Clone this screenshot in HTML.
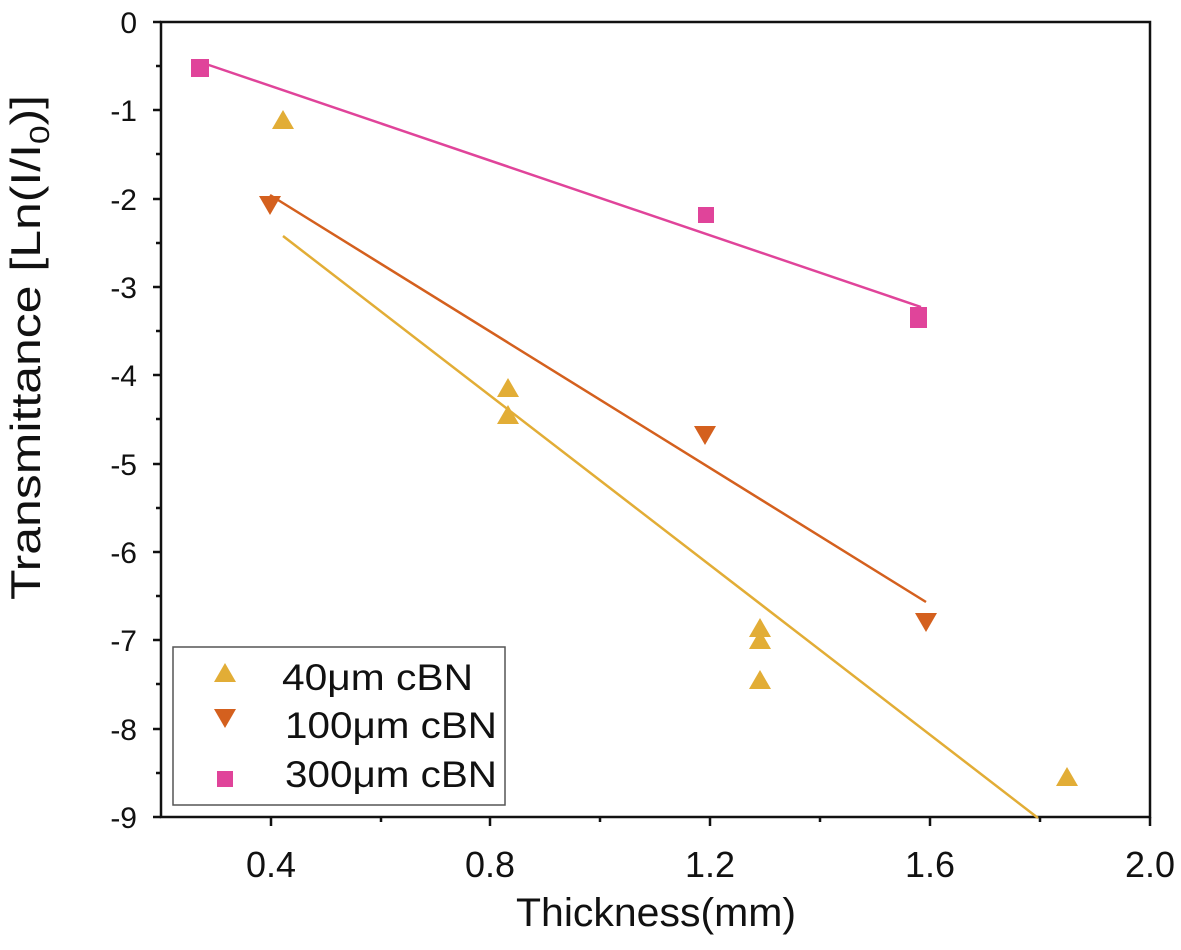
<!DOCTYPE html><html><head><style>body{margin:0;background:#fff}</style></head><body>
<svg width="1181" height="945" xmlns="http://www.w3.org/2000/svg" font-family="Liberation Sans, sans-serif">
<rect width="1181" height="945" fill="#fff"/>
<g stroke="#111" stroke-width="2.5" fill="none">
<rect x="161" y="22" width="989" height="795"/>
<path d="M153 22H161M153 110H161M153 199H161M153 287H161M153 375H161M153 464H161M153 552H161M153 640H161M153 729H161M153 817H161"/>
<path d="M156 66H161M156 154H161M156 243H161M156 331H161M156 419H161M156 508H161M156 596H161M156 684H161M156 773H161"/>
<path d="M271 817V826M490 817V826M710 817V826M930 817V826M1150 817V826M381 817V822M600 817V822M820 817V822M1040 817V822"/>
</g>
<g font-size="30" fill="#111" text-anchor="end">
<text x="137" y="33">0</text><text x="137" y="121">-1</text><text x="137" y="210">-2</text><text x="137" y="298">-3</text><text x="137" y="386">-4</text><text x="137" y="475">-5</text><text x="137" y="563">-6</text><text x="137" y="651">-7</text><text x="137" y="740">-8</text><text x="137" y="828">-9</text>
</g>
<g font-size="36" fill="#111">
<text x="246" y="877" textLength="50" lengthAdjust="spacingAndGlyphs">0.4</text>
<text x="465" y="877" textLength="50" lengthAdjust="spacingAndGlyphs">0.8</text>
<text x="685" y="877" textLength="50" lengthAdjust="spacingAndGlyphs">1.2</text>
<text x="905" y="877" textLength="50" lengthAdjust="spacingAndGlyphs">1.6</text>
<text x="1125" y="877" textLength="50" lengthAdjust="spacingAndGlyphs">2.0</text>
<text x="516" y="926" font-size="40" textLength="280" lengthAdjust="spacingAndGlyphs">Thickness(mm)</text>
<text transform="translate(40,600) rotate(-90)" font-size="42" textLength="505" lengthAdjust="spacingAndGlyphs">Transmittance [Ln(I/I<tspan font-size="28" dy="9">0</tspan><tspan dy="-9">)]</tspan></text>
</g>
<g stroke-width="2.5">
<line x1="200" y1="62" x2="921" y2="307" stroke="#e0449a"/>
<line x1="270" y1="195" x2="926" y2="602" stroke="#d4601e"/>
<line x1="283" y1="236" x2="1038" y2="818" stroke="#e2ad36"/>
</g>
<g fill="#e0449a"><rect x="191" y="59" width="18" height="18"/><rect x="698" y="207" width="16" height="16"/><rect x="910" y="307" width="17" height="17"/><rect x="910" y="313" width="17" height="15"/></g>
<g fill="#e2ad36">
<path d="M283 110l-11 19h22z"/><path d="M508 378l-11 19h22z"/><path d="M508 405l-11 19h22z"/><path d="M760 618l-11 19h22z"/><path d="M760 630l-11 19h22z"/><path d="M760 670l-11 19h22z"/><path d="M1067 767l-11 19h22z"/>
</g>
<g fill="#d4601e">
<path d="M270 215l-11-19h22z"/><path d="M705 445l-11-19h22z"/><path d="M926 632l-11-19h22z"/>
</g>
<rect x="173" y="647" width="332" height="158" fill="#fff" stroke="#555" stroke-width="1.5"/>
<path d="M225 663l-11 19h22z" fill="#e2ad36"/>
<path d="M225 728l-11-19h22z" fill="#d4601e"/>
<rect x="217" y="771" width="16" height="16" fill="#e0449a"/>
<g font-size="37" fill="#111">
<text x="282" y="690" textLength="191" lengthAdjust="spacingAndGlyphs">40μm cBN</text>
<text x="285" y="738" textLength="212" lengthAdjust="spacingAndGlyphs">100μm cBN</text>
<text x="285" y="787" textLength="212" lengthAdjust="spacingAndGlyphs">300μm cBN</text>
</g>
</svg>
</body></html>
